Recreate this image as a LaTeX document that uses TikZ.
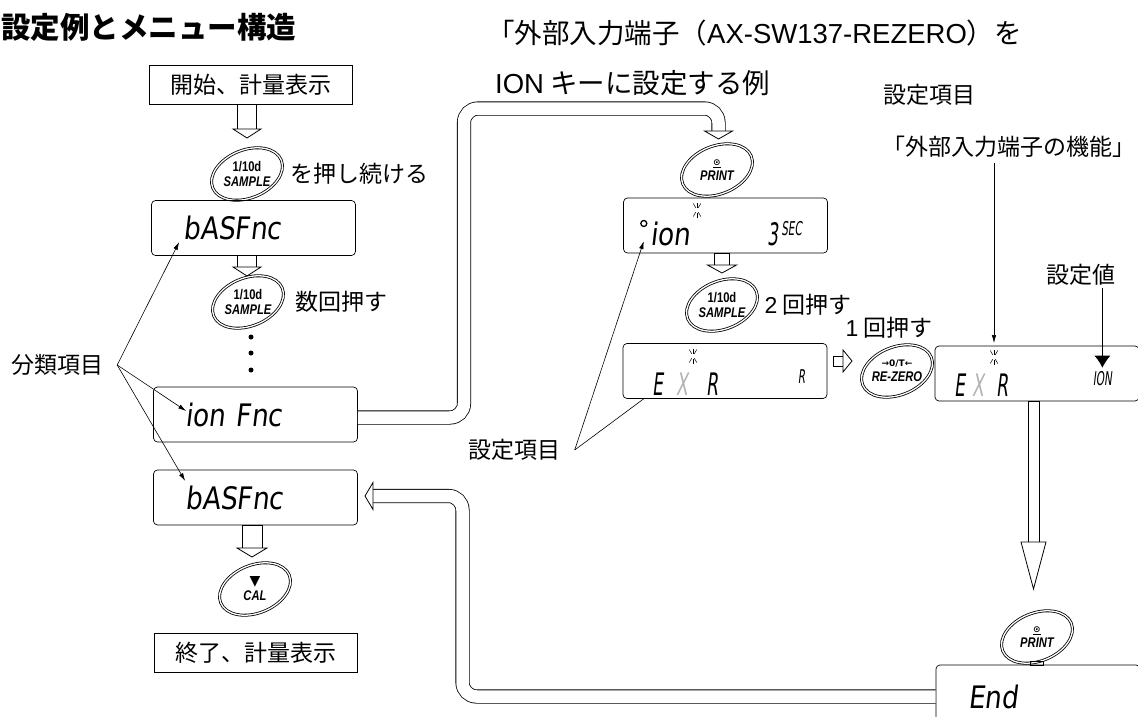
\documentclass[tikz,border=0pt]{standalone}
\usepackage{fontspec}
\setmainfont{Liberation Sans}
\newfontfamily\jp{Noto Sans CJK JP}
\newfontfamily\seg[FakeSlant=0.12,FakeStretch=0.85]{DejaVu Sans}
\newfontfamily\segn[FakeSlant=0.12,FakeStretch=0.55]{DejaVu Sans}
\newfontfamily\keyf[FakeStretch=0.8]{Liberation Sans}
\newfontfamily\sym{DejaVu Sans}
\usetikzlibrary{shapes,arrows.meta,positioning}

\newcommand{\jpfont}{\jp\fontsize{23}{26}\selectfont}
\newcommand{\jpbig}{\jp\fontsize{27.5}{30}\selectfont}
\newcommand{\segfont}{\seg\fontsize{31}{31}\selectfont}
\newcommand{\segnfont}{\segn\fontsize{31}{31}\selectfont}
\newcommand{\segsmall}{\segn\fontsize{19}{19}\selectfont}
\newcommand{\keyfont}{\keyf\bfseries\itshape\fontsize{14}{15}\selectfont}
\newcommand{\hhead}[4]{\filldraw[hollowfill, shift={(#1)}, rotate=#2] (0,-#3) -- (#4,0) -- (0,#3) -- cycle;}

\tikzset{
  plainbox/.style={draw, line width=0.7pt, minimum width=203pt, minimum height=39pt, font=\jpfont},
  display/.style={draw, line width=0.7pt, rounded corners=4pt, inner xsep=32pt, text width=140pt, minimum height=55pt, align=left, font=\segfont},
  segtxt/.style={inner sep=0pt, font=\segnfont},
  keytxt/.style={inner sep=1pt, align=center, font=\keyfont},
  keyring/.style={draw, line width=0.8pt, double distance=1.3pt},
  note/.style={inner sep=2pt, font=\jpfont},
  hollowfill/.style={draw, fill=white, line width=0.8pt},
  loopway/.style={draw, line width=0.8pt, double distance=12.5pt, rounded corners=14pt},
  pointer/.style={draw, line width=0.6pt, -{Latex[length=8pt,width=4.5pt]}},
  lead/.style={draw, line width=0.6pt},
  flick/.style={draw, line width=0.5pt}
}

\begin{document}
\begin{tikzpicture}[x=1pt, y=-1pt]
\useasboundingbox (0,0) rectangle (1138,717);

% headings =============================
\node[anchor=west, inner sep=1pt, font=\jp\bfseries\fontsize{29.5}{32}\selectfont] (title) at (0,27) {設定例とメニュー構造};
\node[note, font=\jpbig, anchor=west] (headA) at (485,33) {「外部入力端子（{\rmfamily AX-SW137-REZERO}）を};
\node[note, font=\jpbig, anchor=west] (headB) at (493,83) {{\rmfamily ION} キーに設定する例};

% menu column =============================
\node[plainbox] (start) at (251,84.5) {開始、計量表示};
\node[keytxt] (key1) at (247,174) {{\upshape 1/10d}\\SAMPLE};
\draw[keyring, rotate around={22:(key1.center)}] (key1.center) ellipse (37 and 24);
\node[note, right=17pt of key1] (push1) {を押し続ける};

\node[display] (bas1) at (253.5,228) {bASFnc};
\node[keytxt] (key2) at (248,302) {{\upshape 1/10d}\\SAMPLE};
\draw[keyring, rotate around={22:(key2.center)}] (key2.center) ellipse (37 and 24);
\node[note, right=21pt of key2] (push2) {数回押す};
\foreach \y in {337,353,370} \fill (251,\y) circle (2.5);

\node[display] (ionf) at (255.5,414.5) {ion Fnc};
\node[display] (bas2) at (255.5,497.5) {bASFnc};
\node[keytxt] (key3) at (255,589) {{\sym ▼}\\CAL};
\draw[keyring, rotate around={22:(key3.center)}] (key3.center) ellipse (37 and 24);
\node[plainbox] (endbox) at (255.5,652.5) {終了、計量表示};

% hollow arrows, left
\coordinate (s1) at (247,129);
\draw[hollowfill] (start.south -| s1) ++(-9.5,0) rectangle ([xshift=9.5pt]s1); \hhead{s1}{-90}{14}{9}
\coordinate (s2) at (247,267);
\draw[hollowfill] (bas1.south -| s2) ++(-9.5,0) rectangle ([xshift=9.5pt]s2); \hhead{s2}{-90}{14}{9}
\coordinate (s3) at (252,548);
\draw[hollowfill] (bas2.south -| s3) ++(-10,0) rectangle ([xshift=10pt]s3); \hhead{s3}{-90}{15}{9}

% category labels
\node[note] (cat) at (57,365) {分類項目};
\coordinate (catp) at ([xshift=12pt]cat.east);
\draw[pointer] (catp) -- ([xshift=28pt,yshift=-14pt]bas1.west);
\draw[pointer] (catp) -- ([xshift=33pt,yshift=3.5pt]ionf.west);
\draw[pointer] (catp) -- ([xshift=32pt,yshift=16.5pt]bas2.west);

% setting column =============================
\node[keytxt] (key4) at (717,170) {{\sym\upshape\fontsize{9}{9}\selectfont\underline{⊙}}\\PRINT};
\draw[keyring, rotate around={22:(key4.center)}] (key4.center) ellipse (37 and 24);

\node[display] (ion3) at (725.5,225.5) {};
\node[circle, draw, line width=1.3pt, minimum size=6pt, inner sep=0pt, right=17pt of ion3.west, yshift=2pt] (dotc) {};
\node[segtxt, font=\segfont, below right=19.5pt and 27pt of ion3.west, anchor=base west] (ion3a) {ion};
\node[segtxt, below right=19.5pt and 144pt of ion3.west, anchor=base west] (ion3b) {3};
\node[segtxt, font=\segsmall, below right=9.5pt and 158pt of ion3.west, anchor=base west] (ion3c) {SEC};
\coordinate (fl1) at (697,210);

\coordinate (s4) at (722,265);
\draw[hollowfill] (ion3.south -| s4) ++(-7.5,0) rectangle ([xshift=7.5pt]s4); \hhead{s4}{-90}{14.5}{8}

\node[keytxt] (key5) at (722,305) {{\upshape 1/10d}\\SAMPLE};
\draw[keyring, rotate around={22:(key5.center)}] (key5.center) ellipse (37 and 24);
\node[note, right=16pt of key5] (push5) {{\rmfamily 2} 回押す};

\node[display] (exr) at (725,371) {};
\node[segtxt, below right=24pt and 30pt of exr.west, anchor=base west] (exrE) {E};
\node[segtxt, text=gray!60, below right=24pt and 54pt of exr.west, anchor=base west] (exrX) {X};
\node[segtxt, below right=24pt and 84pt of exr.west, anchor=base west] (exrR) {R};
\node[segtxt, font=\segsmall, below right=12pt and 175pt of exr.west, anchor=base west] (exrV) {R};
\coordinate (fl2) at (693,356);

\coordinate (s5a) at (833,361);
\coordinate (s5) at (843,361);
\draw[hollowfill] (s5a) ++(0,-5) rectangle ([yshift=-5pt]s5); \hhead{s5}{0}{11}{9}

\node[keytxt] (key6) at (897,371) {{\sym\upshape\fontsize{9}{10}\selectfont →0/T←}\\RE-ZERO};
\draw[keyring, rotate around={22:(key6.center)}] (key6.center) ellipse (37 and 24);
\node[note, above=18pt of key6, xshift=-8pt] (push6) {{\rmfamily 1} 回押す};

\node[display] (exion) at (1037,373.5) {};
\node[segtxt, below right=22.5pt and 20pt of exion.west, anchor=base west] (exionE) {E};
\node[segtxt, text=gray!60, below right=22.5pt and 38pt of exion.west, anchor=base west] (exionX) {X};
\node[segtxt, below right=22.5pt and 62pt of exion.west, anchor=base west] (exionR) {R};
\node[segtxt, font=\segsmall, below right=11.5pt and 158pt of exion.west, anchor=base west] (exionV) {ION};
\coordinate (fl3) at (994,357);

\foreach \f in {fl1,fl2,fl3}
  \foreach \a in {60,90,120,240,270,300}
    \draw[flick] (\f) ++(\a:2.5) -- ++(\a:5);

% labels of the setting
\node[note] (set1) at (929,95) {設定項目};
\node[note] (func) at (1009,147) {「外部入力端子の機能」};
\node[note] (val) at (1081,275) {設定値};
\draw[pointer, shorten <=3pt] (func.south -| fl3) -- ([yshift=14pt]fl3);
\draw[pointer, line width=0.8pt, -{Latex[length=12pt,width=16pt]}] (val.south -| exionV.north) -- ([yshift=3pt]exionV.north);

\node[note] (set2) at (514.5,450) {設定項目};
\coordinate (set2p) at ([xshift=12pt]set2.east);
\draw[pointer] (set2p) -- ([yshift=-14pt]dotc.south);
\draw[lead] (set2p) -- ([xshift=21pt]exr.south west);

% leaving the menu =============================
\coordinate (s8) at (1033.5,542);
\draw[hollowfill] (exion.south -| s8) ++(-5.5,0) rectangle ([xshift=5.5pt]s8); \hhead{s8}{-90}{12.5}{47}

\node[keytxt] (key7) at (1037,637) {{\sym\upshape\fontsize{9}{9}\selectfont\underline{⊙}}\\PRINT};
\draw[keyring, rotate around={22:(key7.center)}] (key7.center) ellipse (37 and 24);
\node[display, minimum height=63pt] (enddisp) at (1038,696.5) {End};
\draw[line width=0.6pt] (1030,661) rectangle (1043,665);

% loops
\coordinate (s6) at (718.5,131);
\draw[loopway] ([yshift=-3pt]ionf.east) -| (464,108.5) -| (s6); \hhead{s6}{-90}{14}{8}
\coordinate (s7) at (373,496);
\draw[loopway] (enddisp.west) -| (462.5,496) -- (s7); \hhead{s7}{180}{13.5}{8}

\end{tikzpicture}
\end{document}
